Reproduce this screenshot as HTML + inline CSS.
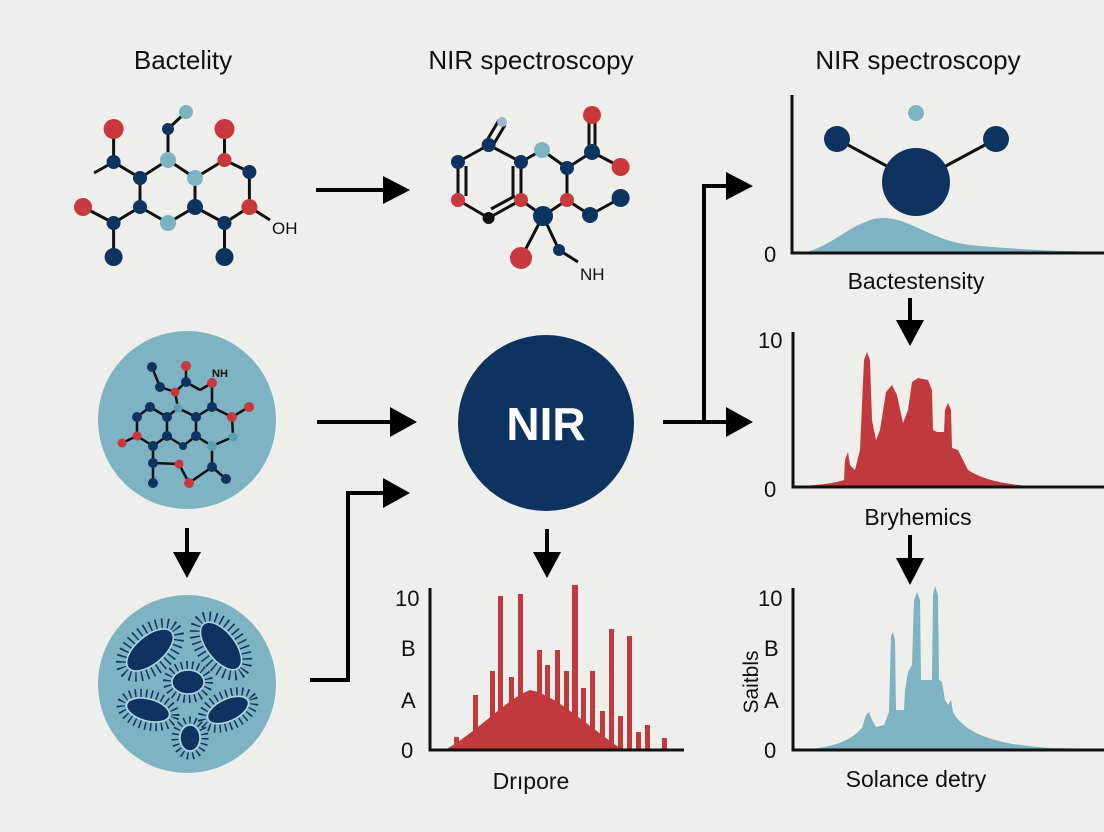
<!DOCTYPE html>
<html><head><meta charset="utf-8"><style>
html,body{margin:0;padding:0;background:#eeeeea;}
svg{display:block;}
text{font-family:"Liberation Sans",sans-serif;fill:#111;}
</style></head><body>
<svg width="1104" height="832" viewBox="0 0 1104 832" xmlns="http://www.w3.org/2000/svg">
<rect width="1104" height="832" fill="#eeeeea"/>
<defs>
<marker id="ah" markerWidth="10" markerHeight="10" refX="0" refY="5" orient="auto" markerUnits="userSpaceOnUse"></marker>
</defs>
<!-- titles -->
<text x="183" y="69" font-size="26" text-anchor="middle">Bactelity</text>
<text x="531" y="69" font-size="26" text-anchor="middle">NIR spectroscopy</text>
<text x="918" y="69" font-size="26" text-anchor="middle">NIR spectroscopy</text>

<!-- arrows -->
<g stroke="#000" stroke-width="4" fill="none">
<line x1="316" y1="190" x2="388" y2="190"/>
<line x1="317" y1="422" x2="392" y2="422"/>
<polyline points="310,680 348,680 348,493 386,493"/>
<line x1="663" y1="422" x2="730" y2="422"/>
<polyline points="704,422 704,186 730,186"/>
<line x1="187" y1="528" x2="187" y2="555"/>
<line x1="547" y1="529" x2="547" y2="555"/>
<line x1="910" y1="298" x2="910" y2="322"/>
<line x1="910" y1="535" x2="910" y2="560"/>
</g>
<g fill="#000">
<polygon points="383,176 410,190 383,204"/>
<polygon points="390,407 417,422 390,437"/>
<polygon points="383,478 410,493 383,508"/>
<polygon points="726,407 753,422 726,437"/>
<polygon points="726,172 753,186 726,200"/>
<polygon points="173,552 201,552 187,578"/>
<polygon points="533,552 561,552 547,578"/>
<polygon points="896,320 924,320 910,346"/>
<polygon points="896,558 924,558 910,585"/>
</g>

<!-- left molecule -->
<g stroke="#111" stroke-width="3">
<line x1="113.6" y1="129" x2="113.6" y2="162"/>
<line x1="168" y1="129" x2="186" y2="112"/>
<line x1="168" y1="129" x2="168" y2="160"/>
<line x1="224.5" y1="129" x2="224.5" y2="160"/>
<line x1="113.6" y1="162" x2="140" y2="178"/>
<line x1="113.6" y1="162" x2="94" y2="173"/>
<line x1="140" y1="178" x2="168" y2="160"/>
<line x1="168" y1="160" x2="195" y2="178"/>
<line x1="195" y1="178" x2="224.5" y2="160"/>
<line x1="224.5" y1="160" x2="249.4" y2="172"/>
<line x1="140" y1="178" x2="140" y2="207"/>
<line x1="195" y1="178" x2="195" y2="207"/>
<line x1="249.4" y1="172" x2="249.4" y2="207"/>
<line x1="83" y1="207" x2="113.6" y2="223"/>
<line x1="140" y1="207" x2="113.6" y2="223"/>
<line x1="140" y1="207" x2="168" y2="223"/>
<line x1="168" y1="223" x2="195" y2="207"/>
<line x1="195" y1="207" x2="224.5" y2="223"/>
<line x1="224.5" y1="223" x2="249.4" y2="207"/>
<line x1="113.6" y1="223" x2="113.6" y2="257"/>
<line x1="224.5" y1="223" x2="224.5" y2="257"/>
<line x1="249.4" y1="207" x2="270" y2="220"/>
</g>
<g>
<circle cx="113.6" cy="129" r="10" fill="#c8383c"/>
<circle cx="168" cy="129" r="6" fill="#0d3461"/>
<circle cx="186" cy="112" r="7" fill="#7ab4c2"/>
<circle cx="224.5" cy="129" r="10" fill="#c8383c"/>
<circle cx="113.6" cy="162" r="7" fill="#0d3461"/>
<circle cx="140" cy="178" r="7" fill="#0d3461"/>
<circle cx="168" cy="160" r="8" fill="#7ab4c2"/>
<circle cx="195" cy="178" r="8" fill="#7ab4c2"/>
<circle cx="224.5" cy="160" r="7" fill="#c8383c"/>
<circle cx="249.4" cy="172" r="7" fill="#0d3461"/>
<circle cx="83" cy="207" r="9" fill="#c8383c"/>
<circle cx="140" cy="207" r="7" fill="#0d3461"/>
<circle cx="113.6" cy="223" r="7" fill="#0d3461"/>
<circle cx="168" cy="223" r="8" fill="#7ab4c2"/>
<circle cx="195" cy="207" r="8" fill="#0d3461"/>
<circle cx="224.5" cy="223" r="7" fill="#0d3461"/>
<circle cx="249.4" cy="207" r="8" fill="#c8383c"/>
<circle cx="113.6" cy="257" r="9" fill="#0d3461"/>
<circle cx="224.5" cy="257" r="9" fill="#0d3461"/>
</g>
<text x="272" y="234" font-size="17">OH</text>

<!-- right top molecule -->
<g stroke="#111" stroke-width="3">
<line x1="458" y1="162" x2="488.6" y2="145"/>
<line x1="486" y1="142" x2="499" y2="120"/>
<line x1="492" y1="147" x2="505" y2="125"/>
<line x1="488.6" y1="145" x2="521" y2="162"/>
<line x1="521" y1="162" x2="542" y2="150"/>
<line x1="542" y1="150" x2="567" y2="168"/>
<line x1="567" y1="168" x2="592" y2="152"/>
<line x1="589" y1="152" x2="589" y2="115"/>
<line x1="595" y1="152" x2="595" y2="115"/>
<line x1="592" y1="152" x2="620.6" y2="167"/>
<line x1="458" y1="162" x2="458" y2="200"/>
<line x1="466" y1="166" x2="466" y2="196"/>
<line x1="458" y1="200" x2="488.6" y2="218"/>
<line x1="488.6" y1="218" x2="521" y2="200"/>
<line x1="491" y1="209" x2="515" y2="196"/>
<line x1="521" y1="162" x2="521" y2="200"/>
<line x1="513" y1="166" x2="513" y2="196"/>
<line x1="567" y1="168" x2="567" y2="200"/>
<line x1="521" y1="200" x2="543" y2="216"/>
<line x1="543" y1="216" x2="567" y2="200"/>
<line x1="567" y1="200" x2="590" y2="215"/>
<line x1="590" y1="215" x2="620.6" y2="198"/>
<line x1="543" y1="216" x2="521" y2="258"/>
<line x1="543" y1="216" x2="559" y2="250"/>
<line x1="559" y1="250" x2="578" y2="262"/>
</g>
<g>
<circle cx="458" cy="162" r="7" fill="#0d3461"/>
<circle cx="488.6" cy="145" r="7" fill="#0d3461"/>
<circle cx="502" cy="122" r="5" fill="#9fb6cc"/>
<circle cx="521" cy="162" r="7" fill="#0d3461"/>
<circle cx="542" cy="150" r="8" fill="#7ab4c2"/>
<circle cx="567" cy="168" r="7" fill="#0d3461"/>
<circle cx="592" cy="152" r="8" fill="#0d3461"/>
<circle cx="592" cy="115" r="9" fill="#c8383c"/>
<circle cx="620.6" cy="167" r="9" fill="#c8383c"/>
<circle cx="458" cy="200" r="7" fill="#c8383c"/>
<circle cx="488.6" cy="218" r="6" fill="#111"/>
<circle cx="521" cy="200" r="7" fill="#c8383c"/>
<circle cx="543" cy="216" r="10" fill="#0d3461"/>
<circle cx="567" cy="200" r="7" fill="#c8383c"/>
<circle cx="590" cy="215" r="8" fill="#0d3461"/>
<circle cx="620.6" cy="198" r="9" fill="#0d3461"/>
<circle cx="521" cy="258" r="11" fill="#c8383c"/>
<circle cx="559" cy="250" r="6" fill="#0d3461"/>
</g>
<text x="580" y="280" font-size="17">NH</text>

<!-- circle with molecule -->
<circle cx="187" cy="420" r="89" fill="#7db3c2"/>
<g stroke="#111" stroke-width="2.5">
<line x1="152" y1="367" x2="160" y2="387"/>
<line x1="160" y1="387" x2="175" y2="392"/>
<line x1="175" y1="392" x2="186" y2="382"/>
<line x1="186" y1="382" x2="186" y2="366"/>
<line x1="186" y1="382" x2="200" y2="390"/>
<line x1="200" y1="390" x2="212" y2="383"/>
<line x1="175" y1="392" x2="178" y2="408"/>
<line x1="178" y1="408" x2="196" y2="417"/>
<line x1="196" y1="417" x2="212" y2="407"/>
<line x1="212" y1="407" x2="212" y2="383"/>
<line x1="212" y1="407" x2="232" y2="417"/>
<line x1="232" y1="417" x2="249" y2="407"/>
<line x1="232" y1="417" x2="233" y2="437"/>
<line x1="233" y1="437" x2="212" y2="446"/>
<line x1="212" y1="446" x2="196" y2="436"/>
<line x1="196" y1="436" x2="196" y2="417"/>
<line x1="196" y1="436" x2="183" y2="446"/>
<line x1="183" y1="446" x2="167" y2="436"/>
<line x1="167" y1="436" x2="167" y2="417"/>
<line x1="167" y1="417" x2="178" y2="408"/>
<line x1="167" y1="417" x2="150" y2="407"/>
<line x1="150" y1="407" x2="137" y2="417"/>
<line x1="137" y1="417" x2="137" y2="436"/>
<line x1="137" y1="436" x2="122" y2="443"/>
<line x1="137" y1="436" x2="153" y2="446"/>
<line x1="153" y1="446" x2="167" y2="436"/>
<line x1="153" y1="446" x2="153" y2="463"/>
<line x1="153" y1="463" x2="153" y2="483"/>
<line x1="153" y1="463" x2="179" y2="464"/>
<line x1="179" y1="464" x2="189" y2="483"/>
<line x1="189" y1="483" x2="212" y2="467"/>
<line x1="212" y1="467" x2="212" y2="446"/>
<line x1="212" y1="467" x2="226" y2="479"/>
</g>
<g fill="#0d3461">
<circle cx="152" cy="367" r="5"/><circle cx="160" cy="387" r="5"/><circle cx="186" cy="382" r="5"/>
<circle cx="196" cy="417" r="5"/><circle cx="212" cy="407" r="5"/><circle cx="196" cy="436" r="5"/>
<circle cx="183" cy="446" r="4"/><circle cx="167" cy="436" r="5"/><circle cx="167" cy="417" r="5"/>
<circle cx="150" cy="407" r="5"/><circle cx="137" cy="417" r="5"/><circle cx="153" cy="446" r="5"/>
<circle cx="153" cy="463" r="5"/><circle cx="153" cy="483" r="5"/><circle cx="212" cy="467" r="5"/>
<circle cx="226" cy="479" r="5"/>
</g>
<g fill="#c8383c">
<circle cx="175" cy="392" r="4.5"/><circle cx="186" cy="366" r="5"/><circle cx="212" cy="383" r="5"/>
<circle cx="232" cy="417" r="5"/><circle cx="249" cy="407" r="5"/><circle cx="137" cy="436" r="4.5"/>
<circle cx="122" cy="443" r="4.5"/><circle cx="179" cy="464" r="4.5"/><circle cx="189" cy="483" r="5"/>
</g>
<g fill="#5aa0b2">
<circle cx="178" cy="408" r="4.5"/><circle cx="233" cy="437" r="4.5"/><circle cx="212" cy="446" r="5"/>
</g>
<text x="212" y="377" font-size="11" font-weight="bold">NH</text>

<!-- bacteria circle -->
<circle cx="187" cy="684" r="89" fill="#7db3c2"/>
<g fill="#0d3461" stroke="#0d3461">
<g transform="translate(150,650) rotate(-40)"><ellipse rx="34" ry="20" fill="none" stroke-width="10" stroke-dasharray="1.5 4.5"/><ellipse rx="28" ry="14" stroke="#b8d6de" stroke-width="1.5"/></g>
<g transform="translate(221,646) rotate(52)"><ellipse rx="34" ry="20" fill="none" stroke-width="10" stroke-dasharray="1.5 4.5"/><ellipse rx="28" ry="14" stroke="#b8d6de" stroke-width="1.5"/></g>
<g transform="translate(188,682)"><ellipse rx="21" ry="17" fill="none" stroke-width="8" stroke-dasharray="1.5 4"/><ellipse rx="16" ry="12" stroke="#b8d6de" stroke-width="1.5"/></g>
<g transform="translate(148,710) rotate(15)"><ellipse rx="28" ry="16" fill="none" stroke-width="8" stroke-dasharray="1.5 4"/><ellipse rx="22" ry="11" stroke="#b8d6de" stroke-width="1.5"/></g>
<g transform="translate(228,710) rotate(-25)"><ellipse rx="28" ry="16" fill="none" stroke-width="8" stroke-dasharray="1.5 4"/><ellipse rx="22" ry="11" stroke="#b8d6de" stroke-width="1.5"/></g>
<g transform="translate(190,738)"><ellipse rx="15" ry="18" fill="none" stroke-width="7" stroke-dasharray="1.5 4"/><ellipse rx="10" ry="13" stroke="#b8d6de" stroke-width="1.5"/></g>
</g>

<!-- NIR circle -->
<circle cx="546" cy="423" r="88" fill="#0d3461"/>
<text x="546" y="440" font-size="46" font-weight="bold" text-anchor="middle" style="fill:#fff">NIR</text>

<!-- top right chart -->
<path d="M800,253 C830,250 855,218 883,218 C910,218 930,240 970,245 C1020,250 1060,251 1104,252 L1104,253 Z" fill="#7db3c2"/>
<line x1="837" y1="139" x2="916" y2="182" stroke="#111" stroke-width="3"/>
<line x1="996" y1="139" x2="916" y2="182" stroke="#111" stroke-width="3"/>
<circle cx="837" cy="139" r="13" fill="#0d3461"/>
<circle cx="996" cy="139" r="13" fill="#0d3461"/>
<circle cx="916" cy="182" r="34" fill="#0d3461"/>
<circle cx="916" cy="113" r="8" fill="#7db3c2"/>
<polyline points="792,95 792,253 1104,253" fill="none" stroke="#111" stroke-width="3"/>
<text x="764" y="262" font-size="22">0</text>
<text x="916" y="289" font-size="23" text-anchor="middle">Bactestensity</text>

<!-- middle right chart -->
<path d="M800,486 C820,485 835,483 844,480 L845,460 L848,452 L850,465 L855,470 L860,450 L864,360 L867,352 L870,360 L872,420 L876,440 L880,430 L886,392 L892,385 L897,395 L903,423 L908,410 L912,382 L918,378 L928,380 L932,390 L933,430 L937,432 L944,432 L945,410 L948,403 L951,410 L952,448 L958,450 L963,460 L968,470 C980,478 1000,484 1030,486 L1030,487 L800,487 Z" fill="#c1393d"/>
<polyline points="793,332 793,487 1104,487" fill="none" stroke="#111" stroke-width="3"/>
<text x="758" y="348" font-size="22">10</text>
<text x="764" y="497" font-size="22">0</text>
<text x="918" y="525" font-size="23" text-anchor="middle">Bryhemics</text>

<!-- bottom middle chart -->
<path d="M445,750 C480,730 505,700 530,690 C555,695 580,720 620,748 L620,750 Z" fill="#c1393d"/>
<g fill="#c1393d">
<rect x="454" y="737" width="5" height="13"/><rect x="473" y="695" width="5" height="55"/>
<rect x="482" y="727" width="5" height="23"/><rect x="490" y="671" width="5" height="79"/>
<rect x="498" y="596" width="5" height="154"/><rect x="509" y="677" width="5" height="73"/>
<rect x="518" y="594" width="5" height="156"/><rect x="527" y="692" width="5" height="58"/>
<rect x="537" y="650" width="5" height="100"/><rect x="545" y="665" width="5" height="85"/>
<rect x="555" y="650" width="5" height="100"/><rect x="564" y="671" width="5" height="79"/>
<rect x="572" y="585" width="6" height="165"/><rect x="581" y="688" width="5" height="62"/>
<rect x="590" y="671" width="5" height="79"/><rect x="600" y="711" width="5" height="39"/>
<rect x="609" y="629" width="5" height="121"/><rect x="618" y="716" width="5" height="34"/>
<rect x="627" y="636" width="5" height="114"/><rect x="636" y="732" width="5" height="18"/>
<rect x="645" y="725" width="5" height="25"/><rect x="662" y="738" width="5" height="12"/>
<rect x="454" y="744" width="20" height="6"/>
</g>
<polyline points="430,588 430,750 684,750" fill="none" stroke="#111" stroke-width="3"/>
<text x="395" y="606" font-size="22">10</text>
<text x="401" y="656" font-size="22">B</text>
<text x="401" y="708" font-size="22">A</text>
<text x="401" y="758" font-size="22">0</text>
<text x="531" y="789" font-size="23" text-anchor="middle">Drıpore</text>

<!-- bottom right chart -->
<path d="M800,750 C830,748 850,742 862,728 L866,715 L869,712 L872,720 L876,727 L884,725 L889,712 L891,636 L893,632 L895,640 L896,710 L904,710 L905,690 L908,672 L912,665 L914,600 L917,592 L920,600 L921,680 L932,680 L933,595 L935,586 L938,595 L939,680 L942,682 L945,700 L948,705 L951,700 L953,712 C965,735 1000,745 1050,748 L1104,749 L1104,750 Z" fill="#7db3c2"/>
<polyline points="793,588 793,750 1104,750" fill="none" stroke="#111" stroke-width="3"/>
<text x="758" y="606" font-size="22">10</text>
<text x="764" y="656" font-size="22">B</text>
<text x="764" y="708" font-size="22">A</text>
<text x="764" y="758" font-size="22">0</text>
<text transform="translate(758,682) rotate(-90)" font-size="21" text-anchor="middle">Saitbls</text>
<text x="916" y="787" font-size="23" text-anchor="middle">Solance detry</text>
</svg>
</body></html>
